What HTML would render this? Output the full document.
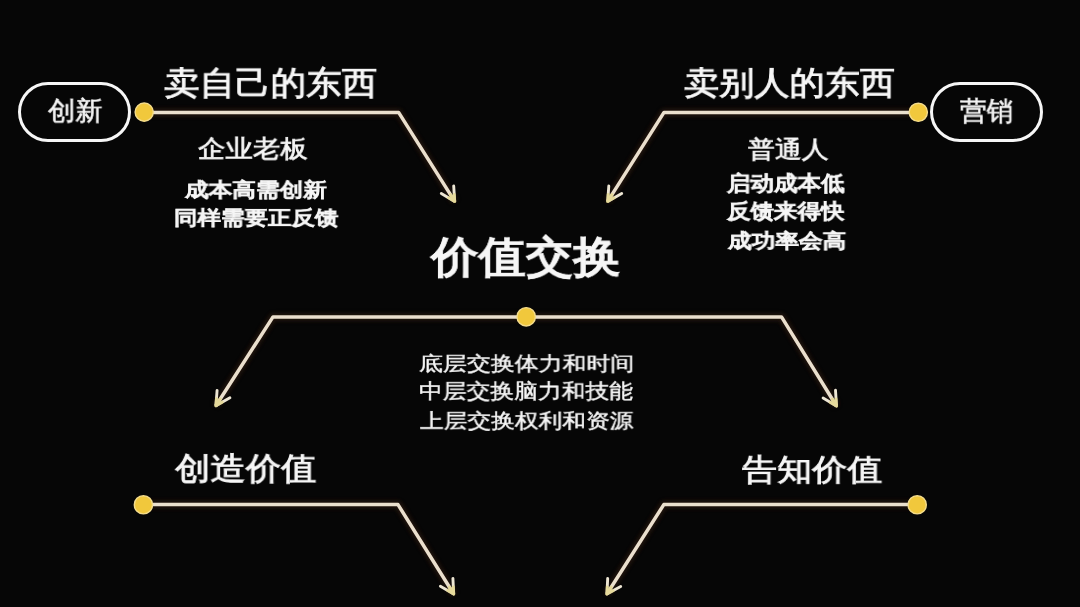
<!DOCTYPE html>
<html><head><meta charset="utf-8">
<style>
html,body{margin:0;padding:0;background:#060606;}
body{width:1080px;height:607px;position:relative;overflow:hidden;font-family:"Liberation Sans",sans-serif;color:#f6f6f6;}
.t{position:absolute;white-space:nowrap;line-height:1;transform-origin:0 0;will-change:transform;}
svg{position:absolute;left:0;top:0;}
.pill{position:absolute;box-sizing:border-box;border:3px solid #f6f6f6;border-radius:30px;}
</style></head><body>
<svg width="1080" height="607" viewBox="0 0 1080 607">
  <defs><filter id="gl" x="-5%" y="-50%" width="110%" height="200%"><feGaussianBlur stdDeviation="2"/></filter></defs>
  <g fill="none" stroke="#3a2212" stroke-width="7" stroke-linejoin="round" filter="url(#gl)" opacity="0.6">
    <polyline points="144,112.4 398.6,112.4 454.7,201.4"/>
    <polyline points="918,112.4 664.0,112.4 607.7,201.4"/>
    <polyline points="215.9,405.7 273.0,316.9 781.5,316.9 836.5,406.0"/>
    <polyline points="143.4,504.6 398.0,504.6 453.7,594.0"/>
    <polyline points="917.2,504.6 663.8,504.6 606.9,594.0"/>
  </g>
  <g fill="none" stroke="#eadfcd" stroke-width="3.5" stroke-linejoin="round" stroke-linecap="butt">
    <polyline points="144,112.4 398.6,112.4 454.7,201.4"/>
    <polyline points="918,112.4 664.0,112.4 607.7,201.4"/>
    <polyline points="215.9,405.7 273.0,316.9 781.5,316.9 836.5,406.0"/>
    <polyline points="143.4,504.6 398.0,504.6 453.7,594.0"/>
    <polyline points="917.2,504.6 663.8,504.6 606.9,594.0"/>
  </g>
  <g fill="none" stroke="#ede6d4" stroke-width="2.9" stroke-linejoin="round" stroke-linecap="round">
    <polyline points="453.7,186.0 454.7,201.4 441.3,193.5"/><polyline points="608.8,186.0 607.7,201.4 621.7,193.5"/><polyline points="217.1,390.4 215.9,405.7 229.9,397.8"/><polyline points="835.5,390.3 836.5,406.0 823.1,397.9"/><polyline points="452.9,578.4 453.7,594.0 440.4,586.2"/><polyline points="607.7,578.4 606.9,594.0 620.7,586.5"/>
  </g>
  <g fill="none" stroke="#e4d684" stroke-width="3" stroke-linejoin="round" stroke-linecap="round" opacity="0.7">
    <polyline points="454.2,194.4 454.7,201.4 448.6,197.8"/><line x1="454.7" y1="201.4" x2="450.4" y2="194.6"/><polyline points="608.2,194.4 607.7,201.4 614.0,197.8"/><line x1="607.7" y1="201.4" x2="612.0" y2="194.6"/><polyline points="216.5,398.8 215.9,405.7 222.2,402.1"/><line x1="215.9" y1="405.7" x2="220.3" y2="398.9"/><polyline points="836.0,399.0 836.5,406.0 830.4,402.4"/><line x1="836.5" y1="406.0" x2="832.3" y2="399.2"/><polyline points="453.3,586.9 453.7,594.0 447.7,590.4"/><line x1="453.7" y1="594.0" x2="449.4" y2="587.2"/><polyline points="607.3,586.9 606.9,594.0 613.1,590.6"/><line x1="606.9" y1="594.0" x2="611.2" y2="587.2"/>
  </g>
  <g fill="#f1c83c" stroke="#f4dc8c" stroke-width="1.4">
    <circle cx="144.2" cy="112.1" r="9.1"/>
    <circle cx="918.3" cy="112.3" r="9.1"/>
    <circle cx="526.2" cy="316.8" r="9.2"/>
    <circle cx="143.4" cy="504.8" r="9.1"/>
    <circle cx="917.2" cy="504.8" r="9.1"/>
  </g>
</svg>
<div class="pill" style="left:18.4px;top:82px;width:112.2px;height:60px;"></div>
<div class="pill" style="left:929.6px;top:82px;width:113.4px;height:60px;"></div>
<div class="t" style="left:47px;top:98px;padding:0.43px 0 0 0.55px;font-size:28px;font-weight:400;transform:scale(0.9753,0.9431);-webkit-text-stroke:0.6px #f6f6f6;">创新</div>
<div class="t" style="left:960px;top:98px;padding:0.41px 0 0 0.23px;font-size:28px;font-weight:400;transform:scale(0.9509,0.9694);-webkit-text-stroke:0.6px #f6f6f6;">营销</div>
<div class="t" style="left:164px;top:66px;padding:0.90px 0 0 0.01px;font-size:36px;font-weight:400;transform:scale(0.9876,0.9134);-webkit-text-stroke:1.0px #f6f6f6;">卖自己的东西</div>
<div class="t" style="left:683px;top:66px;padding:0.80px 0 0 0.52px;font-size:36px;font-weight:400;transform:scale(0.9774,0.9066);-webkit-text-stroke:1.0px #f6f6f6;">卖别人的东西</div>
<div class="t" style="left:197px;top:136px;padding:1.06px 0 0 0.94px;font-size:28px;font-weight:400;transform:scale(0.9798,0.8775);-webkit-text-stroke:0.8px #f6f6f6;">企业老板</div>
<div class="t" style="left:184px;top:180px;padding:0.21px 0 0 0.98px;font-size:24px;font-weight:700;transform:scale(0.9853,0.8222);-webkit-text-stroke:0.45px #f6f6f6;">成本高需创新</div>
<div class="t" style="left:173px;top:208px;padding:0.05px 0 0 0.71px;font-size:24px;font-weight:700;transform:scale(0.9787,0.8246);-webkit-text-stroke:0.45px #f6f6f6;">同样需要正反馈</div>
<div class="t" style="left:747px;top:138px;padding:0.10px 0 0 0.53px;font-size:28px;font-weight:400;transform:scale(0.9610,0.8454);-webkit-text-stroke:0.8px #f6f6f6;">普通人</div>
<div class="t" style="left:726px;top:172px;padding:0.82px 0 0 0.58px;font-size:24px;font-weight:700;transform:scale(0.9798,0.8809);-webkit-text-stroke:0.45px #f6f6f6;">启动成本低</div>
<div class="t" style="left:727px;top:201px;padding:0.39px 0 0 0.20px;font-size:24px;font-weight:700;transform:scale(0.9775,0.8573);-webkit-text-stroke:0.45px #f6f6f6;">反馈来得快</div>
<div class="t" style="left:727px;top:231px;padding:0.27px 0 0 0.52px;font-size:24px;font-weight:700;transform:scale(0.9861,0.8274);-webkit-text-stroke:0.45px #f6f6f6;">成功率会高</div>
<div class="t" style="left:431px;top:235px;padding:1.01px 0 0 0.41px;font-size:48px;font-weight:700;transform:scale(0.9873,0.8990);-webkit-text-stroke:0.2px #f6f6f6;">价值交换</div>
<div class="t" style="left:419px;top:353px;padding:0.96px 0 0 0.13px;font-size:24px;font-weight:400;transform:scale(0.9967,0.8230);-webkit-text-stroke:0.5px #f6f6f6;">底层交换体力和时间</div>
<div class="t" style="left:418px;top:380px;padding:1.16px 0 0 0.87px;font-size:24px;font-weight:400;transform:scale(0.9906,0.8625);-webkit-text-stroke:0.5px #f6f6f6;">中层交换脑力和技能</div>
<div class="t" style="left:419px;top:410px;padding:0.54px 0 0 0.76px;font-size:24px;font-weight:400;transform:scale(0.9880,0.8390);-webkit-text-stroke:0.5px #f6f6f6;">上层交换权利和资源</div>
<div class="t" style="left:175px;top:453px;padding:0.31px 0 0 0.43px;font-size:36px;font-weight:400;transform:scale(0.9824,0.8782);-webkit-text-stroke:1.0px #f6f6f6;">创造价值</div>
<div class="t" style="left:741px;top:454px;padding:1.00px 0 0 0.74px;font-size:36px;font-weight:400;transform:scale(0.9751,0.8396);-webkit-text-stroke:1.0px #f6f6f6;">告知价值</div>
</body></html>
